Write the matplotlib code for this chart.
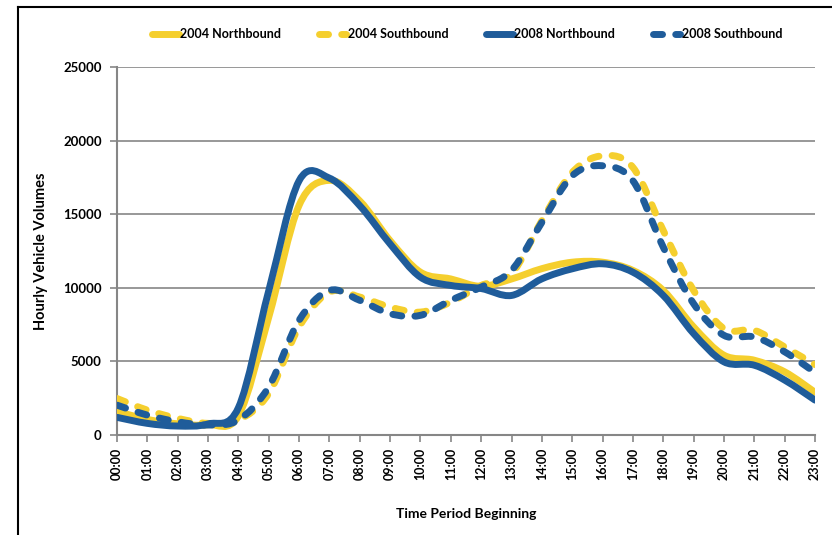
import numpy as np
import matplotlib
matplotlib.use('Agg')
from matplotlib import pyplot as plt
from matplotlib.path import Path
from matplotlib.patches import PathPatch
from matplotlib.lines import Line2D

hours = ['%02d:00' % h for h in range(24)]

nb_2004 = [1600, 1060, 760, 700, 1300, 8000, 15600, 17300, 15900, 13200, 11060, 10600,
           10100, 10600, 11300, 11740, 11740, 11180, 9820, 7340, 5420, 5080, 4290, 2900]
sb_2004 = [2480, 1690, 1130, 790, 1020, 2820, 7340, 9710, 9370, 8690, 8350, 9030,
           10160, 10950, 14560, 17840, 18970, 18180, 13890, 9820, 7230, 7110, 5980, 4780]
nb_2008 = [1200, 790, 610, 750, 1850, 9800, 17270, 17450, 15580, 12980, 10720, 10160,
           9950, 9480, 10610, 11290, 11630, 11060, 9480, 6890, 4970, 4740, 3730, 2370]
sb_2008 = [2030, 1350, 900, 680, 1020, 3270, 7790, 9820, 9150, 8240, 8130, 9150,
           10050, 11180, 14450, 17610, 18290, 17270, 12760, 8920, 6770, 6660, 5650, 4250]

yellow = '#F5CF2E'
blue = '#1F5C9A'
grey = '#868686'


def smooth_path(y):
    # Excel style smoothed line: Catmull-Rom turned into cubic Bezier segments
    x = np.arange(len(y), dtype=float)
    pts = np.column_stack([x, np.asarray(y, dtype=float)])
    verts = [pts[0]]
    codes = [Path.MOVETO]
    n = len(pts)
    for i in range(n - 1):
        p0 = pts[max(i - 1, 0)]
        p1 = pts[i]
        p2 = pts[i + 1]
        p3 = pts[min(i + 2, n - 1)]
        c1 = p1 + (p2 - p0) / 6.0
        c2 = p2 - (p3 - p1) / 6.0
        verts += [c1, c2, p2]
        codes += [Path.CURVE4] * 3
    return Path(verts, codes)


plt.rcParams['font.family'] = ['Lato', 'DejaVu Sans']
plt.rcParams['font.weight'] = 'bold'

fig = plt.figure(figsize=(8.32, 5.35), dpi=100)
ax = fig.add_axes([0.1406, 0.1869, 0.8390, 0.6879])

lw = 5
dash = (0, (1.3, 1.9))
series = [
    (nb_2004, yellow, '-', '2004 Northbound'),
    (sb_2004, yellow, dash, '2004 Southbound'),
    (nb_2008, blue, '-', '2008 Northbound'),
    (sb_2008, blue, dash, '2008 Southbound'),
]
handles = []
for vals, col, ls, lab in series:
    patch = PathPatch(smooth_path(vals), fill=False, edgecolor=col, lw=lw,
                      linestyle=ls, capstyle='round', joinstyle='round', zorder=3)
    ax.add_patch(patch)
    handles.append(Line2D([], [], color=col, lw=lw, linestyle=ls,
                          dash_capstyle='round', solid_capstyle='round', label=lab))

ax.set_xlim(0, 23)
ax.set_ylim(0, 25000)
ax.set_xticks(range(24))
ax.set_xticklabels(hours, rotation=90, fontsize=9)
ax.set_yticks(range(0, 25001, 5000))
ax.set_yticklabels([str(v) for v in range(0, 25001, 5000)], fontsize=9.5)
ax.tick_params(axis='both', color=grey, width=1.2, length=5, pad=4)
ax.tick_params(axis='y', pad=6)
ax.yaxis.grid(True, color=grey, lw=1.2)
ax.set_axisbelow(True)
for s in ['top', 'right']:
    ax.spines[s].set_visible(False)
for s in ['left', 'bottom']:
    ax.spines[s].set_color(grey)
    ax.spines[s].set_linewidth(1.5)

ax.set_ylabel('Hourly Vehicle Volumes', fontsize=10.5, fontweight='bold', labelpad=11)
ax.set_xlabel('Time Period Beginning', fontsize=10, fontweight='bold', labelpad=20)

fig.legend(handles=handles, loc='center', bbox_to_anchor=(0.561, 0.936), ncol=4,
           frameon=False, fontsize=9, handlelength=2.2, handletextpad=0.1,
           columnspacing=3.0)

# outer chart border (top and left edges visible)
fig.add_artist(Line2D([18 / 832, 1], [1 - 7 / 535, 1 - 7 / 535], color='black', lw=1.5,
                      transform=fig.transFigure))
fig.add_artist(Line2D([18 / 832, 18 / 832], [0, 1 - 7 / 535], color='black', lw=1.5,
                      transform=fig.transFigure))

fig.savefig('out.png', dpi=100)
